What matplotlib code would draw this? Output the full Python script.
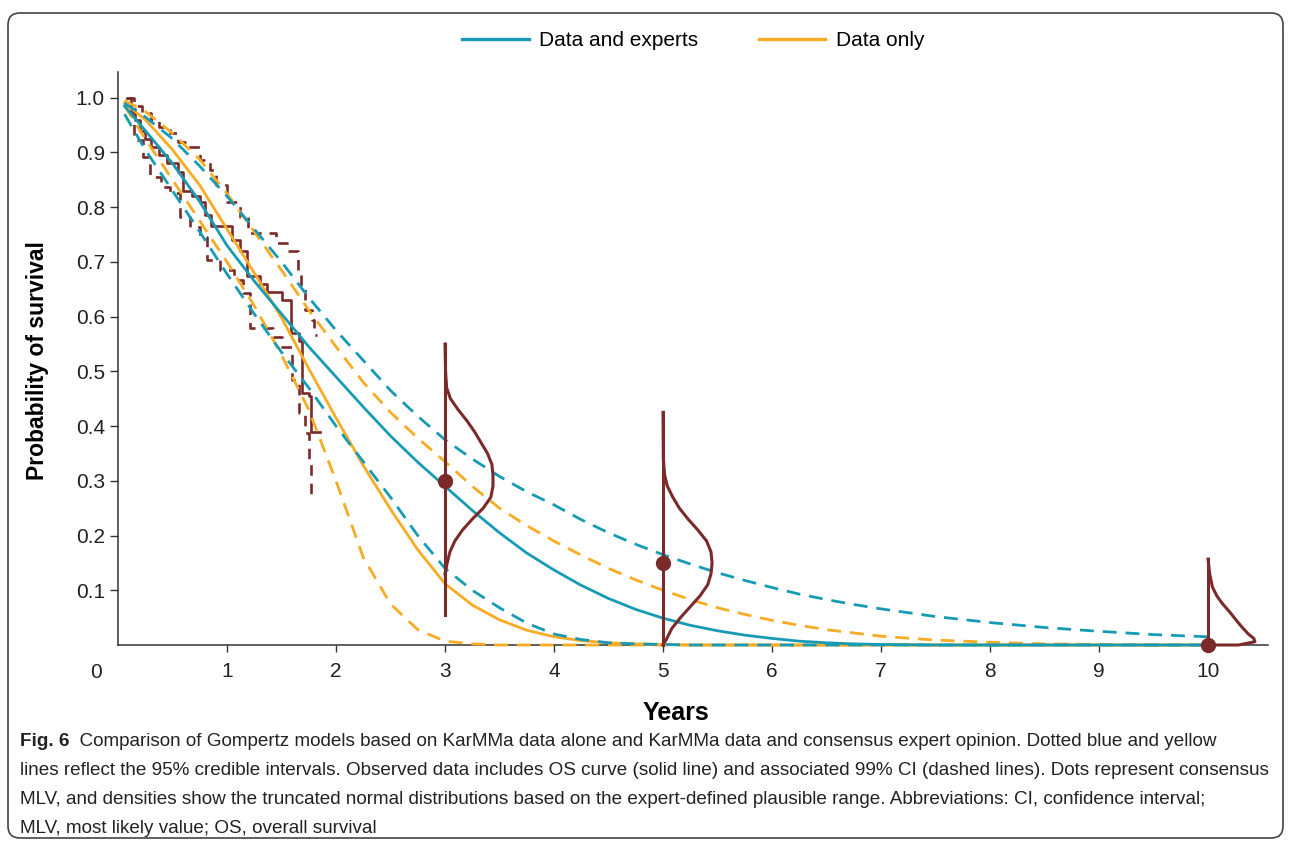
import matplotlib
matplotlib.use('Agg')
import matplotlib.pyplot as plt
import numpy as np
from matplotlib.lines import Line2D
from matplotlib.patches import FancyBboxPatch
from matplotlib import font_manager as fm

plt.rcParams['font.family'] = ['Liberation Sans', 'DejaVu Sans']

# model curves
years = [0.06, 0.25, 0.5, 0.75, 1.0, 1.25, 1.5, 1.75, 2.0, 2.25, 2.5, 2.75, 3.0, 3.25, 3.5, 3.75,
         4.0, 4.25, 4.5, 4.75, 5.0, 5.25, 5.5, 5.75, 6.0, 6.25, 6.5, 6.75, 7.0,
         7.5, 8.0, 8.5, 9.0, 9.5, 10.0]
exp_mid = [0.985, 0.94, 0.88, 0.81, 0.73, 0.665, 0.605, 0.545, 0.49, 0.435, 0.382, 0.334, 0.29, 0.246, 0.205, 0.168,
           0.137, 0.109, 0.085, 0.065, 0.049, 0.036, 0.026, 0.018, 0.012, 0.007, 0.004, 0.002, 0.001,
           0, 0, 0, 0, 0, 0]
exp_hi = [0.99, 0.965, 0.925, 0.875, 0.82, 0.76, 0.70, 0.635, 0.575, 0.52, 0.465, 0.418, 0.375, 0.34, 0.308, 0.28,
          0.256, 0.229, 0.205, 0.184, 0.165, 0.148, 0.132, 0.118, 0.105, 0.093, 0.083, 0.074, 0.066,
          0.052, 0.041, 0.032, 0.025, 0.019, 0.015]
exp_lo = [0.97, 0.905, 0.83, 0.755, 0.678, 0.605, 0.535, 0.47, 0.40, 0.335, 0.27, 0.20, 0.14, 0.10, 0.068, 0.04,
          0.02, 0.01, 0.004, 0.002, 0.001, 0, 0, 0, 0, 0, 0, 0, 0,
          0, 0, 0, 0, 0, 0]
dat_mid = [0.99, 0.96, 0.905, 0.84, 0.76, 0.68, 0.598, 0.505, 0.415, 0.328, 0.248, 0.174, 0.112, 0.073, 0.046, 0.027,
           0.015, 0.008, 0.004, 0.002, 0.001, 0, 0, 0, 0, 0, 0, 0, 0,
           0, 0, 0, 0, 0, 0]
dat_hi = [0.995, 0.975, 0.935, 0.887, 0.825, 0.755, 0.685, 0.612, 0.545, 0.48, 0.425, 0.378, 0.335, 0.29, 0.25, 0.218,
          0.19, 0.164, 0.14, 0.119, 0.10, 0.083, 0.068, 0.056, 0.045, 0.036, 0.028, 0.022, 0.016,
          0.009, 0.005, 0.002, 0.001, 0, 0]
dat_lo = [0.985, 0.925, 0.85, 0.775, 0.70, 0.62, 0.53, 0.43, 0.30, 0.16, 0.075, 0.028, 0.007, 0.002, 0, 0,
          0, 0, 0, 0, 0, 0, 0, 0, 0, 0, 0, 0, 0,
          0, 0, 0, 0, 0, 0]

# Kaplan-Meier observed data
km_t = [0.08, 0.12, 0.16, 0.2, 0.25, 0.3, 0.38, 0.45, 0.55, 0.6, 0.68, 0.75, 0.8, 0.85, 1.05, 1.12, 1.18,
        1.3, 1.37, 1.5, 1.59, 1.66, 1.69, 1.75, 1.77, 1.85]
km_s = [1.0, 0.98, 0.96, 0.94, 0.925, 0.91, 0.895, 0.88, 0.865, 0.83, 0.82, 0.81, 0.785, 0.765, 0.74, 0.72, 0.675,
        0.66, 0.645, 0.63, 0.57, 0.555, 0.46, 0.455, 0.39, 0.39]
km_hi_t = [0.08, 0.15, 0.22, 0.3, 0.38, 0.48, 0.55, 0.63, 0.75, 0.84, 0.9, 1.0, 1.12, 1.19, 1.45, 1.55, 1.65,
           1.68, 1.72, 1.78, 1.8, 1.83]
km_hi_s = [1.0, 0.985, 0.972, 0.96, 0.947, 0.935, 0.92, 0.91, 0.887, 0.868, 0.84, 0.81, 0.782, 0.753, 0.735, 0.72,
           0.68, 0.655, 0.613, 0.594, 0.567, 0.567]
km_lo_t = [0.1, 0.14, 0.15, 0.23, 0.29, 0.39, 0.48, 0.57, 0.66, 0.75, 0.82, 0.94, 1.06, 1.15, 1.21, 1.42, 1.5,
           1.6, 1.66, 1.72, 1.75, 1.77, 1.78]
km_lo_s = [0.975, 0.96, 0.923, 0.892, 0.856, 0.837, 0.826, 0.782, 0.764, 0.746, 0.704, 0.686, 0.667, 0.643, 0.58,
           0.563, 0.545, 0.484, 0.424, 0.388, 0.338, 0.265, 0.265]

# expert opinion: MLV dots, plausible ranges and density shapes
exp_years = [3, 5, 10]
exp_mlv = [0.30, 0.15, 0.0]
exp_low = [0.055, 0.0, 0.0]
exp_high = [0.55, 0.425, 0.157]
dens3_y = [0.55, 0.50, 0.47, 0.45, 0.43, 0.41, 0.39, 0.37, 0.35, 0.33, 0.31, 0.29, 0.27, 0.25, 0.23, 0.21,
           0.19, 0.17, 0.15, 0.13]
dens3_w = [0, 0.005, 0.015, 0.05, 0.12, 0.2, 0.27, 0.33, 0.39, 0.43, 0.44, 0.44, 0.42, 0.35, 0.25, 0.16,
           0.09, 0.045, 0.02, 0.0]
dens5_y = [0.425, 0.34, 0.31, 0.29, 0.27, 0.25, 0.23, 0.21, 0.19, 0.17, 0.15, 0.13, 0.11, 0.09, 0.07, 0.05,
           0.03, 0.01, 0.0]
dens5_w = [0, 0.003, 0.015, 0.04, 0.09, 0.15, 0.23, 0.32, 0.40, 0.44, 0.45, 0.44, 0.41, 0.34, 0.25, 0.16,
           0.08, 0.03, 0.0]
dens10_y = [0.157, 0.13, 0.106, 0.09, 0.077, 0.06, 0.045, 0.033, 0.02, 0.012, 0.006, 0.0, 0.0]
dens10_w = [0, 0.015, 0.04, 0.08, 0.126, 0.2, 0.26, 0.31, 0.37, 0.42, 0.43, 0.28, 0.0]

teal = '#179bb5'
orange = '#f9ab24'
brown = '#7b2a2a'
axcol = '#333333'

fig = plt.figure(figsize=(12.9, 8.43), dpi=100)
ax = fig.add_axes([118/1290, 1-645/843, 1150/1290, 573/843])

# KM curves
kw = dict(color=brown, lw=1.9, drawstyle='steps-post', zorder=3)
ax.plot(km_t, km_s, **kw)
ax.plot(km_hi_t, km_hi_s, linestyle=(0, (4, 3)), **kw)
ax.plot(km_lo_t, km_lo_s, linestyle=(0, (4, 3)), **kw)

# gompertz models
ax.plot(years, dat_hi, color=orange, lw=2, ls=(0, (5, 3.2)), zorder=4, clip_on=False)
ax.plot(years, dat_lo, color=orange, lw=2, ls=(0, (5, 3.2)), zorder=4, clip_on=False)
ax.plot(years, dat_mid, color=orange, lw=2, zorder=4, clip_on=False)
ax.plot(years, exp_hi, color=teal, lw=2, ls=(0, (5, 3.2)), zorder=5, clip_on=False)
ax.plot(years, exp_lo, color=teal, lw=2, ls=(0, (5, 3.2)), zorder=5, clip_on=False)
ax.plot(years, exp_mid, color=teal, lw=2, zorder=5, clip_on=False)

# expert densities
dens = [(dens3_y, dens3_w), (dens5_y, dens5_w), (dens10_y, dens10_w)]
for i, t in enumerate(exp_years):
    ax.plot([t, t], [exp_low[i], exp_high[i]], color=brown, lw=2.2, zorder=6, clip_on=False)
    dy, dw = dens[i]
    ax.plot(t + np.array(dw), dy, color=brown, lw=2.2, zorder=6, clip_on=False)
    ax.plot(t, exp_mlv[i], 'o', color=brown, ms=10, zorder=7, clip_on=False)

ax.set_xlim(0, 10.55)
ax.set_ylim(0, 1.047)
for s in ['top', 'right']:
    ax.spines[s].set_visible(False)
for s in ['left', 'bottom']:
    ax.spines[s].set_color(axcol)
    ax.spines[s].set_linewidth(1.1)
ax.set_xticks(range(1, 11))
ax.set_yticks([0.1, 0.2, 0.3, 0.4, 0.5, 0.6, 0.7, 0.8, 0.9, 1.0])
ax.set_yticklabels(['0.1', '0.2', '0.3', '0.4', '0.5', '0.6', '0.7', '0.8', '0.9', '1.0'])
ax.tick_params(axis='x', length=5, width=1, color=axcol, labelsize=15, pad=7, labelcolor='#222222')
ax.tick_params(axis='y', length=5.5, width=1, color=axcol, labelsize=15, pad=4, labelcolor='#222222')
ax.annotate('0', xy=(0, 0), xytext=(-22, -27), textcoords='offset pixels', xycoords='data',
            ha='center', va='center', fontsize=15, color='#222222')

fig.text(38/1290, 1-361/843, 'Probability of survival', rotation=90, ha='center', va='center',
         fontsize=16.5, fontweight='bold')
fig.text(676/1290, 1-713/843, 'Years', ha='center', va='center', fontsize=18, fontweight='bold')

# legend
h1 = Line2D([], [], color=teal, lw=2.4)
h2 = Line2D([], [], color=orange, lw=2.4)
fig.legend([h1, h2], ['Data and experts', 'Data only'], loc='center', bbox_to_anchor=(693/1290, 1-41/843),
           ncol=2, frameon=False, fontsize=15, handlelength=3.2, handletextpad=0.5, columnspacing=2.9)

# caption
names = [f.name for f in fm.fontManager.ttflist]
capfont = 'Liberation Sans Narrow' if 'Liberation Sans Narrow' in names else 'Liberation Sans'
cap_lines = [
    'Comparison of Gompertz models based on KarMMa data alone and KarMMa data and consensus expert opinion. Dotted blue and yellow',
    'lines reflect the 95% credible intervals. Observed data includes OS curve (solid line) and associated 99% CI (dashed lines). Dots represent consensus',
    'MLV, and densities show the truncated normal distributions based on the expert-defined plausible range. Abbreviations: CI, confidence interval;',
    'MLV, most likely value; OS, overall survival',
]
cap_y = [741, 770.5, 800, 828.5]
renderer = fig.canvas.get_renderer()
probe = fig.text(0, 0, cap_lines[1], fontsize=12, family=capfont)
w = probe.get_window_extent(renderer).width
probe.remove()
cap_size = 12 * 1258 / w
fb = fig.text(20/1290, 1-cap_y[0]/843, 'Fig. 6', fontsize=cap_size, fontweight='bold', family=capfont,
              va='center', ha='left', color='#222222')
fig.canvas.draw()
fig.text(0, 0, '  ' + cap_lines[0], fontsize=cap_size, family=capfont, va='center', ha='left',
         color='#222222', transform=matplotlib.transforms.blended_transform_factory(
             matplotlib.transforms.IdentityTransform(), fig.transFigure))
fig.texts[-1].set_position((fb.get_window_extent(renderer).x1, 1-cap_y[0]/843))
for line, yy in zip(cap_lines[1:], cap_y[1:]):
    fig.text(20/1290, 1-yy/843, line, fontsize=cap_size, family=capfont, va='center', ha='left', color='#222222')

# rounded frame
box = FancyBboxPatch((0.08, 0.05), 12.75, 8.25, boxstyle='round,pad=0,rounding_size=0.12',
                     transform=fig.dpi_scale_trans, fill=False, ec='#444444', lw=1.2)
fig.add_artist(box)

fig.savefig('out.png', dpi=100)
